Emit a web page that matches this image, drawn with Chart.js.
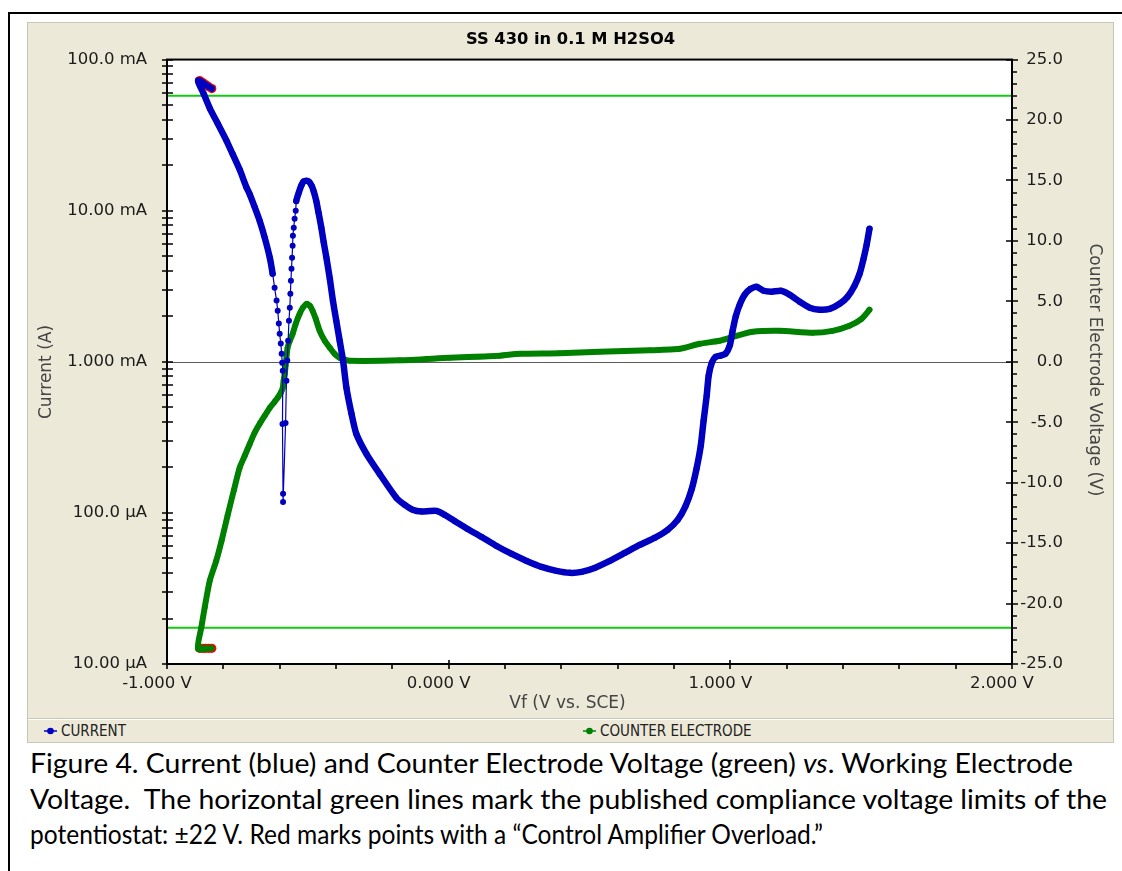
<!DOCTYPE html>
<html>
<head>
<meta charset="utf-8">
<script src="https://cdn.jsdelivr.net/npm/chart.js@4.4.1/dist/chart.umd.min.js"></script>
<style>
html,body{margin:0;padding:0;background:#fff;width:1122px;height:871px;overflow:hidden;}
#frame{position:absolute;left:8px;top:12px;width:1120px;height:870px;border-top:2px solid #000;border-left:2px solid #000;}
#panel{position:absolute;left:28px;top:23px;width:1085px;height:719px;background:#ECE9D8;outline:1px solid #c9c6b7;}
#chart{position:absolute;left:0;top:0;}
#legend{position:absolute;left:0;top:695px;width:1085px;height:24px;border-top:1px solid #c9c6b7;box-shadow:inset 0 1px 0 #fff;}
.item{position:absolute;top:0;height:24px;display:flex;align-items:center;font-family:'Liberation Sans Narrow','DejaVu Sans Condensed',sans-serif;font-size:15px;color:#222;}
.item svg{margin-right:4px;}
#caption{position:absolute;left:30px;top:745px;font-family:Lato,'Open Sans',sans-serif;font-size:27px;line-height:35.5px;color:#000;white-space:nowrap;}
#caption span.l{display:inline-block;transform-origin:0 50%;}
</style>
</head>
<body>
<div id="frame"></div>
<div id="panel">
  <canvas id="chart" width="1085" height="694"></canvas>
  <div id="legend">
    <div class="item" style="left:16px"><svg width="13" height="8"><line x1="0" y1="4" x2="13" y2="4" stroke="#0000c0" stroke-width="1.5"/><circle cx="6.5" cy="4" r="3.3" fill="#0000c0"/></svg>CURRENT</div>
    <div class="item" style="left:555px"><svg width="13" height="8"><line x1="0" y1="4" x2="13" y2="4" stroke="#008000" stroke-width="1.5"/><circle cx="6.5" cy="4" r="3.3" fill="#008000"/></svg>COUNTER ELECTRODE</div>
  </div>
</div>
<div id="caption">
  <div><span class="l">Figure 4. Current (blue) and Counter Electrode Voltage (green) <i>vs</i>. Working Electrode</span></div>
  <div><span class="l">Voltage.&nbsp; The horizontal green lines mark the published compliance voltage limits of the</span></div>
  <div><span class="l">potentiostat: ±22 V. Red marks points with a “Control Amplifier Overload.”</span></div>
</div>
<script>
// ---------------- data ----------------
// points flagged with "Control Amplifier Overload" (start of scan)
const overloadVf      = [-0.884, -0.873, -0.863, -0.852, -0.841];   // V vs SCE
const overloadCurrent = [72.6, 70.4, 68.3, 66.2, 64.3];             // mA
const overloadCE      = [-23.7, -23.7, -23.7, -23.7, -23.7];        // V

// current (mA) vs Vf (V)
const currentVf = [
  -0.890,-0.870,-0.848,-0.820,-0.789,-0.767,-0.742,-0.718,-0.706,-0.689,
  -0.671,-0.653,-0.635,-0.625,-0.618,-0.611,-0.607,-0.603,-0.600,-0.596,
  -0.593,-0.591,-0.589,-0.590,-0.588,-0.588,-0.579,-0.576,-0.573,-0.570,
  -0.567,-0.564,-0.562,-0.560,-0.558,-0.556,-0.554,-0.553,-0.550,-0.547,
  -0.543,-0.541,-0.532,-0.523,-0.515,-0.505,-0.497,-0.487,-0.479,-0.470,
  -0.462,-0.452,-0.444,-0.434,-0.422,-0.411,-0.399,-0.387,-0.375,-0.363,
  -0.345,-0.328,-0.292,-0.245,-0.186,-0.156,-0.128,-0.096,-0.067,-0.043,
  -0.014, 0.021, 0.067, 0.117, 0.170, 0.224, 0.277, 0.330, 0.383, 0.430,
   0.472, 0.518, 0.572, 0.625, 0.678, 0.731, 0.777, 0.813, 0.841, 0.863,
   0.880, 0.895, 0.905, 0.916, 0.923, 0.934, 0.948, 0.966, 0.983, 0.998,
   1.008, 1.019, 1.033, 1.051, 1.072, 1.093, 1.118, 1.147, 1.179, 1.210,
   1.246, 1.282, 1.317, 1.353, 1.388, 1.416, 1.441, 1.459, 1.473, 1.484,
   1.494
];
const currentmA = [
  72.6, 59.5, 47.5, 37.7, 29.1, 23.7, 18.7, 14.3, 12.8, 10.6,
  8.59, 6.62, 4.88, 3.83, 3.09, 2.54, 2.18, 1.79, 1.53, 1.32,
  1.13, 0.985, 0.871, 0.388, 0.134, 0.118, 0.394, 0.748, 1.02, 1.38,
  1.87, 2.28, 2.82, 3.44, 4.13, 4.88, 5.86, 6.83, 7.71, 8.85,
  10.0, 11.6, 13.2, 14.7, 15.6, 15.8, 15.6, 14.7, 13.4, 11.6,
  9.70, 7.71, 6.23, 4.88, 3.55, 2.54, 1.87, 1.38, 1.02, 0.673,
  0.453, 0.334, 0.246, 0.181, 0.126, 0.113, 0.105, 0.102, 0.103, 0.103,
  0.097, 0.0885, 0.0783, 0.0693, 0.0604, 0.0535, 0.0481, 0.0439, 0.0413, 0.0401,
  0.0407, 0.0432, 0.0481, 0.0543, 0.0614, 0.0683, 0.0771, 0.0899, 0.111, 0.144,
  0.196, 0.278, 0.407, 0.595, 0.808, 0.985, 1.08, 1.10, 1.13, 1.28,
  1.60, 1.99, 2.38, 2.78, 3.04, 3.14, 2.95, 2.91, 2.95, 2.78,
  2.50, 2.28, 2.21, 2.24, 2.42, 2.69, 3.19, 3.83, 4.81, 5.96,
  7.60
];

// counter electrode voltage (V) vs Vf (V)
const ceVf = [
  -0.890,-0.878,-0.866,-0.848,-0.825,-0.806,-0.785,-0.763,-0.742,-0.724,
  -0.706,-0.689,-0.671,-0.653,-0.635,-0.618,-0.607,-0.596,-0.589,-0.586,
  -0.582,-0.579,-0.572,-0.564,-0.554,-0.543,-0.529,-0.518,-0.504,-0.493,
  -0.483,-0.472,-0.458,-0.440,-0.422,-0.405,-0.387,-0.369,-0.351,-0.174,
   0.004, 0.181, 0.252, 0.394, 0.536, 0.714, 0.820, 0.891, 0.962, 1.022,
   1.079, 1.175, 1.292, 1.363, 1.423, 1.466, 1.494
];
const ceVolt = [
  -23.74,-21.96,-20.31,-18.10,-16.45,-14.79,-12.73,-10.66,-8.76,-7.77,
  -6.78,-5.87,-5.12,-4.46,-3.80,-3.31,-2.98,-2.56,-2.15,-1.57,
  -0.99,-0.33, 1.16, 1.74, 2.31, 3.14, 3.97, 4.46, 4.79, 4.63,
   4.21, 3.55, 2.56, 1.74, 1.16, 0.66, 0.33, 0.17, 0.08, 0.12,
   0.33, 0.50, 0.66, 0.70, 0.83, 0.95, 1.07, 1.49, 1.74, 2.15,
   2.48, 2.56, 2.40, 2.56, 2.98, 3.55, 4.30
];

// published compliance limits of the potentiostat
const complianceVf   = [-1, 2];
const complianceHigh = [22, 22];
const complianceLow  = [-22, -22];

// axis ticks
const vfTicks = [-1, 0, 1, 2];
const vfTickLabels = ['-1.000 V', '0.000 V', '1.000 V', '2.000 V'];
const currentTicks = [0.01, 0.1, 1, 10, 100];
const currentTickLabels = ['10.00 µA', '100.0 µA', '1.000 mA', '10.00 mA', '100.0 mA'];
const ceTicks = [-25, -20, -15, -10, -5, 0, 5, 10, 15, 20, 25];
const ceTickLabels = ['-25.0', '-20.0', '-15.0', '-10.0', '-5.0', '0.0', '5.0', '10.0', '15.0', '20.0', '25.0'];

// ---------------- chart ----------------
const pts = (xs, ys) => xs.map((x, i) => ({x: x, y: ys[i]}));
const BLUE = '#0000c0', GREEN = '#008000', LIMIT = 'rgb(20,200,20)', RED = '#ff0000';
const THIN = [-0.626, -0.540]; // sparse-sample region of the current trace

const currentData = pts(overloadVf, overloadCurrent).concat(pts(currentVf, currentmA));
const ceData = pts(overloadVf, overloadCE).concat(pts(ceVf, ceVolt));

const tickFont = {family: 'DejaVu Sans', size: 16.5};
const tickColor = '#1c1c1c';

const deco = {
  id: 'deco',
  beforeDraw(chart) {
    const {ctx, chartArea: a} = chart;
    ctx.save();
    ctx.fillStyle = '#ffffff';
    ctx.fillRect(a.left, a.top, a.right - a.left, a.bottom - a.top);
    ctx.restore();
  },
  beforeDatasetsDraw(chart) {
    const {ctx, chartArea: a, scales} = chart;
    const yz = Math.round(scales.y2.getPixelForValue(0)) + 0.5;
    ctx.save();
    ctx.strokeStyle = '#5c5c5c';
    ctx.lineWidth = 1.2;
    ctx.beginPath(); ctx.moveTo(a.left, yz); ctx.lineTo(a.right, yz); ctx.stroke();
    ctx.restore();
  },
  afterDraw(chart) {
    const {ctx, chartArea: a, scales: {x, y, y2}} = chart;
    ctx.save();
    ctx.strokeStyle = '#000';
    ctx.lineWidth = 2;
    ctx.strokeRect(a.left, a.top, a.right - a.left, a.bottom - a.top);
    ctx.lineWidth = 1.6;
    ctx.beginPath();
    // log axis (left): decade + 2..9 ticks, crossing the axis
    [0.01, 0.1, 1, 10].forEach(d => {
      for (let m = 1; m <= 9; m++) {
        const py = Math.round(y.getPixelForValue(d * m));
        ctx.moveTo(a.left - 5, py); ctx.lineTo(a.left + 6, py);
      }
    });
    const pTop = Math.round(y.getPixelForValue(100));
    ctx.moveTo(a.left - 5, pTop); ctx.lineTo(a.left + 6, pTop);
    // right axis: 1 V minor, 5 V major
    for (let v = -25; v <= 25; v++) {
      const py = Math.round(y2.getPixelForValue(v));
      if (v % 5 === 0) { ctx.moveTo(a.right - 6, py); ctx.lineTo(a.right + 6, py); }
      else { ctx.moveTo(a.right, py); ctx.lineTo(a.right + 5, py); }
    }
    // bottom axis: 0.2 V minor, 1 V major
    for (let k = 0; k <= 15; k++) {
      const v = -1 + 0.2 * k;
      const px = Math.round(x.getPixelForValue(v));
      if (k % 5 === 0) { ctx.moveTo(px, a.bottom - 4); ctx.lineTo(px, a.bottom + 5); }
      else { ctx.moveTo(px, a.bottom); ctx.lineTo(px, a.bottom + 5); }
    }
    ctx.stroke();

    // axis titles
    ctx.fillStyle = '#444';
    ctx.font = '17px "DejaVu Sans"';
    ctx.textAlign = 'center';
    ctx.textBaseline = 'middle';
    ctx.save(); ctx.translate(19, 349); ctx.rotate(-Math.PI / 2); ctx.fillText('Current (A)', 0, 0); ctx.restore();
    ctx.save(); ctx.translate(1066, 347); ctx.rotate(Math.PI / 2); ctx.fillText('Counter Electrode Voltage (V)', 0, 0); ctx.restore();
    ctx.fillText('Vf (V vs. SCE)', chart.width / 2 - 3, 681);
    ctx.restore();
  }
};

new Chart(document.getElementById('chart'), {
  type: 'line',
  data: {
    datasets: [
      {
        label: 'CURRENT', data: currentData, yAxisID: 'y', order: 1,
        borderColor: BLUE, backgroundColor: BLUE, borderWidth: 6.5,
        pointRadius: 3, pointBorderWidth: 0, pointBackgroundColor: BLUE,
        borderJoinStyle: 'round', borderCapStyle: 'round', tension: 0.2,
        segment: {
          borderWidth: c => {
            const d = c.chart.data.datasets[c.datasetIndex].data;
            const x0 = d[c.p0DataIndex].x, x1 = d[c.p1DataIndex].x;
            return (x0 >= THIN[0] && x0 <= THIN[1] && x1 >= THIN[0] && x1 <= THIN[1]) ? 1.2 : 6.5;
          }
        }
      },
      {
        label: 'COUNTER ELECTRODE', data: ceData, yAxisID: 'y2', order: 2,
        borderColor: GREEN, backgroundColor: GREEN, borderWidth: 6,
        pointRadius: 2.8, pointBorderWidth: 0, pointBackgroundColor: GREEN,
        borderJoinStyle: 'round', borderCapStyle: 'round', tension: 0.2
      },
      {
        label: 'Overload (current)', data: pts(overloadVf, overloadCurrent), yAxisID: 'y', order: 3,
        showLine: false, pointRadius: 4.6, pointBorderWidth: 0, pointBackgroundColor: RED, borderColor: RED
      },
      {
        label: 'Overload (CE)', data: pts(overloadVf, overloadCE), yAxisID: 'y2', order: 3,
        showLine: false, pointRadius: 4.6, pointBorderWidth: 0, pointBackgroundColor: RED, borderColor: RED
      },
      {
        label: '+22 V', data: pts(complianceVf, complianceHigh), yAxisID: 'y2', order: 4,
        borderColor: LIMIT, borderWidth: 2, pointRadius: 0
      },
      {
        label: '-22 V', data: pts(complianceVf, complianceLow), yAxisID: 'y2', order: 4,
        borderColor: LIMIT, borderWidth: 2, pointRadius: 0
      }
    ]
  },
  options: {
    responsive: false,
    devicePixelRatio: 1,
    animation: false,
    events: [],
    layout: {padding: 0},
    plugins: {
      legend: {display: false},
      tooltip: {enabled: false},
      title: {
        display: true, text: 'SS 430 in 0.1 M H2SO4', fullSize: true,
        color: '#000', font: {family: 'DejaVu Sans', size: 16.3, weight: 'bold'},
        padding: {top: 7, bottom: 10}
      }
    },
    scales: {
      x: {
        type: 'linear', position: 'bottom', min: -1, max: 2,
        afterBuildTicks: s => { s.ticks = vfTicks.map(v => ({value: v})); },
        afterFit: s => { s.height = 53; },
        grid: {display: false, drawTicks: false},
        border: {display: false},
        ticks: {
          autoSkip: false, maxRotation: 0, minRotation: 0, padding: 10, labelOffset: -10,
          font: tickFont, color: tickColor,
          callback: v => { const i = vfTicks.indexOf(v); return i >= 0 ? vfTickLabels[i] : ''; }
        }
      },
      y: {
        type: 'logarithmic', position: 'left', min: 0.01, max: 100,
        afterBuildTicks: s => { s.ticks = currentTicks.map(v => ({value: v})); },
        afterFit: s => { s.width = 139; },
        grid: {display: false, drawTicks: false},
        border: {display: false},
        ticks: {
          autoSkip: false, padding: 20, crossAlign: 'near',
          font: tickFont, color: tickColor,
          callback: v => { const i = currentTicks.indexOf(v); return i >= 0 ? currentTickLabels[i] : ''; }
        }
      },
      y2: {
        type: 'linear', position: 'right', weight: 0, min: -25, max: 25,
        afterBuildTicks: s => { s.ticks = ceTicks.map(v => ({value: v})); },
        afterFit: s => { s.width = 51; },
        grid: {display: false, drawTicks: false},
        border: {display: false},
        ticks: {
          autoSkip: false, padding: 10, crossAlign: 'far',
          font: tickFont, color: tickColor,
          callback: v => { const i = ceTicks.indexOf(v); return i >= 0 ? ceTickLabels[i] : ''; }
        }
      },
      // empty band to the right of the voltage axis (room for its title)
      titleBand: {
        type: 'linear', position: 'right', weight: 1, min: 0, max: 1,
        afterFit: s => { s.width = 50; },
        grid: {display: false, drawTicks: false},
        border: {display: false},
        ticks: {display: false}
      }
    }
  },
  plugins: [deco]
});

// caption: fit each line to the width it spans in the reference
function fitCaption() {
  const targets = [1043, 1077, 793];
  document.querySelectorAll('#caption span.l').forEach((el, i) => {
    el.style.transform = 'none';
    const w = el.getBoundingClientRect().width;
    if (w > 0) el.style.transform = 'scaleX(' + (targets[i] / w) + ')';
  });
}
fitCaption();
if (document.fonts && document.fonts.ready) document.fonts.ready.then(fitCaption);
</script>
</body>
</html>
